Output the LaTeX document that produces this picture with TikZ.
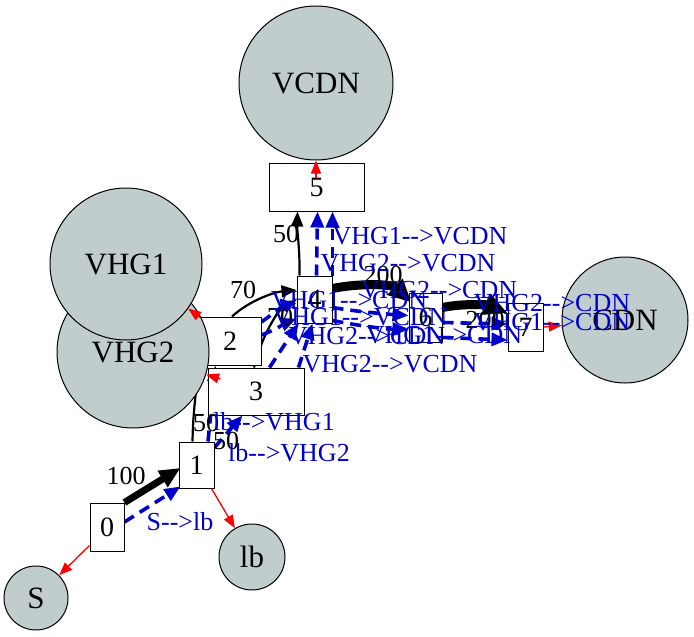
\documentclass[tikz,border=0pt]{standalone}
\usepackage{fontspec}
\setmainfont{Liberation Serif}
\usetikzlibrary{arrows.meta,calc}
\definecolor{nodegray}{RGB}{193,205,205}
\definecolor{flowblue}{RGB}{0,0,205}
\newcommand{\flowto}{-{}-{}>}
\pgfdeclarelayer{bg}
\pgfdeclarelayer{fg}
\pgfsetlayers{bg,main,fg}
\begin{document}
\begin{tikzpicture}[x=1pt,y=-1pt,
  box/.style={draw, fill=white, line width=1pt, inner sep=0pt, font=\fontsize{28}{30}\selectfont},
  circ/.style={circle, draw, fill=nodegray, line width=1pt, inner sep=0pt, font=\fontsize{31}{33}\selectfont},
  capedge/.style={line width=2.2pt, -{Triangle[length=15pt,width=12pt]}},
  thickedge/.style={line width=7pt, -{Triangle[length=21pt,width=18pt]}},
  heavyedge/.style={line width=9pt, -{Triangle[length=23pt,width=21pt]}},
  flow/.style={flowblue, line width=3.6pt, dash pattern=on 11pt off 7pt, -{Triangle[length=16pt,width=13pt]}},
  redge/.style={red, line width=1.3pt, -{Triangle[length=13pt,width=10pt]}},
  elab/.style={font=\fontsize{26}{28}\selectfont, inner sep=0pt},
  flab/.style={elab, text=flowblue}]
\useasboundingbox (0,0) rectangle (694,637);
% boxes
\node[box, minimum width=34pt, minimum height=48pt] (n0) at (107,527) {0};
\node[box, minimum width=35pt, minimum height=46pt] (n1) at (196.5,465) {1};
\node[box, minimum width=62pt, minimum height=48pt] (n2) at (230,341) {2};
\node[box, minimum width=96pt, minimum height=47pt] (n3) at (256,391.5) {3};
\node[box, minimum width=35pt, minimum height=47pt] (n4) at (314.5,299.5) {4};
\node[box, minimum width=95pt, minimum height=48pt] (n5) at (316.5,187) {5};
\node[box, minimum width=33pt, minimum height=49pt] (n6) at (425.5,317.5) {6};
\node[box, minimum width=35pt, minimum height=48pt] (n7) at (525.5,327) {7};
% circles
\node[circ, minimum size=154pt] (VCDN) at (316,83) {VCDN};
\node[circ, minimum size=152pt] (VHG2) at (133,352) {VHG2};
\node[circ, minimum size=152pt] (VHG1) at (126,264) {VHG1};
\node[circ, minimum size=126pt] (CDN) at (625,320) {CDN};
\node[circ, minimum size=66pt] (lb) at (252,557) {lb};
\node[circ, minimum size=64pt] (S) at (36,598) {S};
\begin{pgfonlayer}{bg}
% capacity edges
\draw[thickedge] (n0.north east) -- ($(n1.west)+(2,3)$);
\draw[capedge] ($(n1.north)+(-4,0)$) .. controls (193,410) and (197,385) .. (n2.south west);
\draw[capedge] ($(n2.north)+(2,0)$) .. controls (250,300) and (275,292) .. ($(n4.west)+(0,-9.5)$);
\draw[capedge] ($(n3.north)+(-2,0)$) .. controls (262,335) and (278,310) .. ($(n4.west)+(0,0.5)$);
\draw[capedge] ($(n4.north west)+(3,0)$) .. controls (300,250) and (297,230) .. ($(n5.south west)+(29,0)$);
\draw[heavyedge] ($(n4.east)+(0,-11)$) .. controls (360,283) and (392,284) .. ($(n6.north west)+(3,10)$);
\draw[heavyedge] ($(n6.east)+(0,-10)$) .. controls (465,303) and (488,305) .. ($(n7.west)+(0,-14)$);
% flow edges
\draw[flow] ($(n0.east)+(0,-5)$) -- ($(n1.south west)+(2,-2)$);
\draw[flow] ($(n1.north)+(11.5,0)$) -- ($(n2.south west)+(17,0)$);
\draw[flow] ($(n1.north east)+(0,6)$) -- ($(n3.south west)+(35,0)$);
\draw[flow] ($(n2.east)+(0,-19)$) .. controls (275,312) and (285,305) .. ($(n4.west)+(0,4)$);
\draw[flow] ($(n2.east)+(0,-6)$) .. controls (275,330) and (288,322) .. ($(n4.south west)+(0,-5)$);
\draw[flow] ($(n3.north west)+(62,0)$) -- ($(n4.south west)+(2,0)$);
\draw[flow] ($(n3.north east)+(-6,0)$) -- ($(n4.south)+(-2,0)$);
\draw[flow] ($(n4.north)+(2,0)$) -- ($(n5.south)+(1,0)$);
\draw[flow] (n4.north east) -- ($(n5.south)+(16,0)$);
\draw[flow] ($(n4.east)+(0,8)$) .. controls (360,312) and (385,314) .. ($(n6.west)+(0,-2)$);
\draw[flow] ($(n4.south east)+(0,-3)$) .. controls (360,326) and (385,329) .. ($(n6.west)+(0,12)$);
\draw[flow] ($(n6.east)+(0,5)$) -- ($(n7.west)+(0,-3)$);
\draw[flow] ($(n6.south east)+(0,-5)$) -- ($(n7.west)+(0,13)$);
\end{pgfonlayer}
\begin{pgfonlayer}{fg}
% exits to named nodes
\draw[redge] ($(n0.south west)+(0,-6)$) -- (S);
\draw[redge] ($(n1.south east)+(-3,0)$) -- (lb);
\draw[redge] ($(n2.north west)+(2,1)$) -- (VHG1);
\draw[redge] ($(n3.west)+(13,-12.5)$) -- (VHG2);
\draw[redge] ($(n5.north)+(-0.5,15)$) -- (VCDN);
\draw[redge] (n7.east) -- (CDN);
% labels
\node[elab] (c01) at (126,476) {100};
\node[elab] (c12) at (206,423) {50};
\node[elab] (c13) at (226,441) {50};
\node[elab] (c24) at (243,290) {70};
\node[elab] (c34) at (280,317) {70};
\node[elab] (c45) at (286,234) {50};
\node[elab] (c46) at (383,275) {200};
\node[elab] (c67) at (485,320) {200};
\node[flab] (f01) at (180,522) {S\flowto lb};
\node[flab] (f12) at (274,422) {lb\flowto VHG1};
\node[flab] (f13) at (289,453) {lb\flowto VHG2};
\node[flab] (f45a) at (420,236) {VHG1\flowto VCDN};
\node[flab] (f45b) at (408,263) {VHG2\flowto VCDN};
\node[flab] (f46a) at (439,290) {VHG2\flowto CDN};
\node[flab] (f24a) at (349,300) {VHG1\flowto CDN};
\node[flab] (f24b) at (360,317) {VHG1\flowto VCDN};
\node[flab] (f34a) at (367,336) {VHG2\flowto CDN};
\node[flab] (f46b) at (444,335) {VHG1\flowto CDN};
\node[flab] (f34b) at (390,364) {VHG2\flowto VCDN};
\node[flab] (f67a) at (552,303) {VHG2\flowto CDN};
\node[flab] (f67b) at (552,322) {VHG1\flowto CDN};
\end{pgfonlayer}
\end{tikzpicture}
\end{document}
